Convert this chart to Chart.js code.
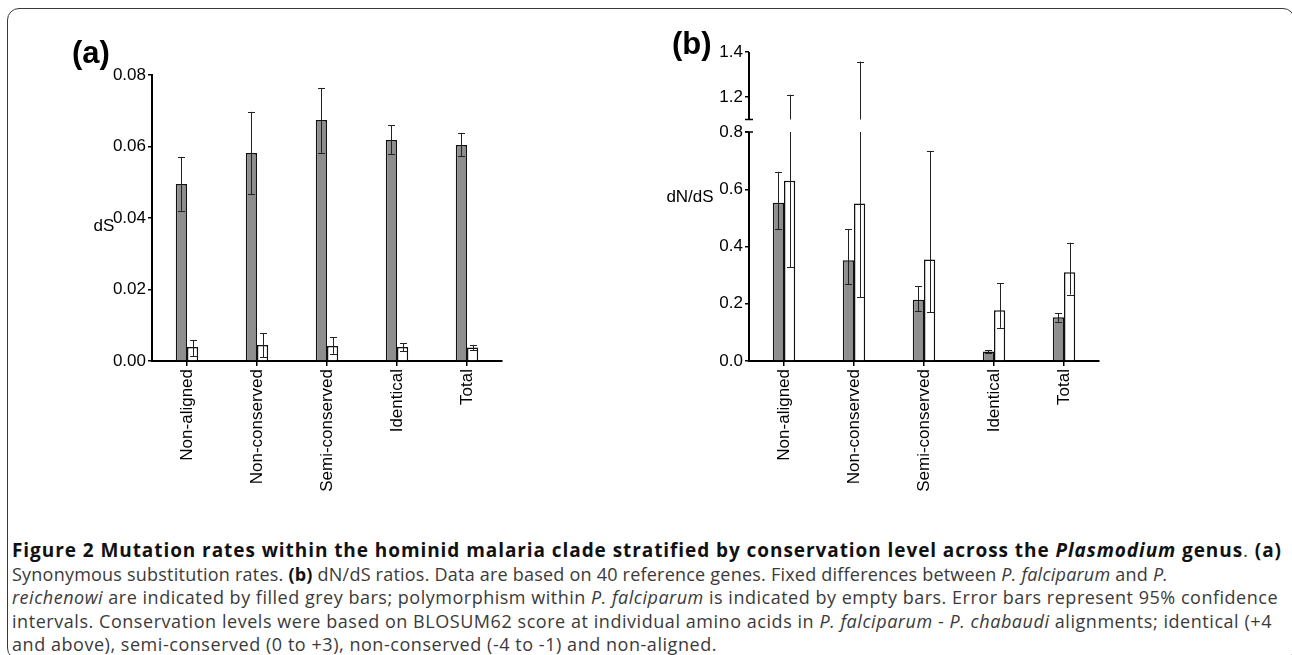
<!DOCTYPE html>
<html>
<head>
<meta charset="utf-8">
<script src="https://cdn.jsdelivr.net/npm/chart.js@4.4.1/dist/chart.umd.min.js"></script>
<style>
  html, body { margin: 0; padding: 0; background: #fff; }
  #page { position: relative; width: 1292px; height: 655px; overflow: hidden; font-family: "Liberation Sans", Arial, sans-serif; }
  #frame { position: absolute; left: 7px; top: 8px; width: 1288px; height: 652px; box-sizing: border-box; border: 1.5px solid #3a3a3a; border-radius: 12px; }
  #boxA { position: absolute; left: 0; top: 0; }
  #boxB { position: absolute; left: 640px; top: 0; }
  .tag { position: absolute; font: bold 31px "Liberation Sans", Arial, sans-serif; color: #000; line-height: 1; }
  #caption { position: absolute; left: 12px; top: 539px; font-family: "Open Sans", sans-serif; font-size: 18px; line-height: 23.5px; color: #3a3a3a; white-space: nowrap; }
  #caption b { color: #111; }
  #caption .head { font-size: 19px; }
</style>
</head>
<body>
<div id="page">
  <div id="frame"></div>
  <canvas id="boxA" width="640" height="520"></canvas>
  <canvas id="boxB" width="652" height="520"></canvas>
  <div class="tag" style="left:72px; top:37px;">(a)</div>
  <div class="tag" style="left:672px; top:28px;">(b)</div>
  <div id="caption">
    <span class="ln head" data-w="1270"><b>Figure 2 Mutation rates within the hominid malaria clade stratified by conservation level across the <i>Plasmodium</i> genus</b>. <b>(a)</b></span><br>
    <span class="ln" data-w="1156">Synonymous substitution rates. <b>(b)</b> dN/dS ratios. Data are based on 40 reference genes. Fixed differences between <i>P. falciparum</i> and <i>P.</i></span><br>
    <span class="ln" data-w="1266"><i>reichenowi</i> are indicated by filled grey bars; polymorphism within <i>P. falciparum</i> is indicated by empty bars. Error bars represent 95% confidence</span><br>
    <span class="ln" data-w="1260">intervals. Conservation levels were based on BLOSUM62 score at individual amino acids in <i>P. falciparum</i> - <i>P. chabaudi</i> alignments; identical (+4</span><br>
    <span class="ln" data-w="705">and above), semi-conserved (0 to +3), non-conserved (-4 to -1) and non-aligned.</span>
  </div>
</div>
<script>
var categories = ["Non-aligned", "Non-conserved", "Semi-conserved", "Identical", "Total"];

// (a) dS: fixed differences (grey) and polymorphism (white), with 95% CI
var dsFixed     = [0.0495, 0.0582, 0.0674, 0.0618, 0.0604];
var dsFixedLow  = [0.0420, 0.0467, 0.0582, 0.0579, 0.0573];
var dsFixedHigh = [0.0571, 0.0697, 0.0764, 0.0660, 0.0638];
var dsPoly      = [0.0039, 0.0045, 0.0042, 0.0039, 0.0038];
var dsPolyLow   = [0.0014, 0.0011, 0.0020, 0.0028, 0.0031];
var dsPolyHigh  = [0.0059, 0.0078, 0.0067, 0.0050, 0.0045];
var dsTicks     = [0, 0.02, 0.04, 0.06, 0.08];

// (b) dN/dS
var dndsFixed     = [0.553, 0.352, 0.214, 0.033, 0.153];
var dndsFixedLow  = [0.460, 0.268, 0.174, 0.029, 0.137];
var dndsFixedHigh = [0.661, 0.460, 0.262, 0.038, 0.167];
var dndsPoly      = [0.630, 0.550, 0.355, 0.177, 0.310];
var dndsPolyLow   = [0.327, 0.222, 0.170, 0.116, 0.232];
var dndsPolyHigh  = [1.210, 1.357, 0.734, 0.271, 0.413];
var dndsLowTicks  = [0, 0.2, 0.4, 0.6, 0.8];
var dndsHighTicks = [1.2, 1.4];
var dndsBreak     = [0.8, 1.1];   // axis is cut between these two values
var dndsTop       = 1.4;

var GREY = '#8e8e8e';
var FONT = '"Liberation Sans", Arial, sans-serif';

// stretch each caption line to its column width
document.querySelectorAll('#caption .ln').forEach(function(el) {
  var want = Number(el.getAttribute('data-w'));
  var have = el.getBoundingClientRect().width;
  var n = el.textContent.length;
  el.style.letterSpacing = ((want - have) / n).toFixed(3) + 'px';
});

// value range -> list of [yFrom, yTo] pixel pieces, split across the axis break
function pieces(chart, lo, hi) {
  var brk = chart.options.plugins.errorBars.cut;
  var y = chart.scales.y;
  if (!brk) return [[y.getPixelForValue(lo), y.getPixelForValue(hi)]];
  var y2 = chart.scales.y2;
  var out = [];
  out.push([y.getPixelForValue(lo), y.getPixelForValue(Math.min(hi, brk[0]))]);
  if (hi > brk[1]) out.push([y2.getPixelForValue(brk[1]), y2.getPixelForValue(hi)]);
  return out;
}
function yPix(chart, v) {
  var brk = chart.options.plugins.errorBars.cut;
  if (brk && v > brk[1]) return chart.scales.y2.getPixelForValue(v);
  return chart.scales.y.getPixelForValue(v);
}

var errorBars = {
  id: 'errorBars',
  afterDatasetsDraw: function(chart) {
    var ctx = chart.ctx;
    var cap = 3.5;
    ctx.save();
    ctx.strokeStyle = '#222';
    ctx.lineWidth = 1;
    chart.data.datasets.forEach(function(ds, di) {
      chart.getDatasetMeta(di).data.forEach(function(bar, i) {
        var x = Math.round(bar.x) + 0.5;
        var lo = ds.errLow[i], hi = ds.errHigh[i];
        ctx.beginPath();
        pieces(chart, lo, hi).forEach(function(p) {
          ctx.moveTo(x, p[0]);
          ctx.lineTo(x, p[1]);
        });
        [lo, hi].forEach(function(v) {
          var py = Math.round(yPix(chart, v)) + 0.5;
          ctx.moveTo(x - cap, py);
          ctx.lineTo(x + cap, py);
        });
        ctx.stroke();
      });
    });
    ctx.restore();
  }
};

// horizontal y-axis title and the broken axis line
var axisExtras = {
  id: 'axisExtras',
  afterDraw: function(chart) {
    var o = chart.options.plugins.axisExtras;
    var ctx = chart.ctx;
    var a = chart.chartArea;
    ctx.save();
    ctx.fillStyle = '#000';
    ctx.font = '17px ' + FONT;
    ctx.textAlign = 'center';
    ctx.textBaseline = 'middle';
    ctx.fillText(o.title, a.left + o.titleDx, a.top + o.titleAt * (a.bottom - a.top));
    if (o.cut) {
      var y = chart.scales.y, y2 = chart.scales.y2;
      var x = a.left;
      var yLowTop = y.getPixelForValue(o.cut[0]);
      var yHighBottom = y2.getPixelForValue(o.cut[1]);
      ctx.strokeStyle = '#000';
      ctx.lineWidth = 2;
      ctx.beginPath();
      ctx.moveTo(x, y.getPixelForValue(0) + 1);
      ctx.lineTo(x, yLowTop);
      ctx.moveTo(x, yHighBottom);
      ctx.lineTo(x, y2.getPixelForValue(o.top));
      ctx.stroke();
      ctx.lineWidth = 1.5;
      ctx.beginPath();
      ctx.moveTo(x - 4, yLowTop);
      ctx.lineTo(x + 4, yLowTop);
      ctx.moveTo(x - 4, yHighBottom);
      ctx.lineTo(x + 4, yHighBottom);
      ctx.stroke();
    }
    ctx.restore();
  }
};

function barSets(fixed, fLow, fHigh, poly, pLow, pHigh) {
  var common = { borderColor: '#111', borderWidth: 1.5, categoryPercentage: 0.32, barPercentage: 1.0 };
  return [
    Object.assign({ label: 'Fixed', data: fixed, backgroundColor: GREY, errLow: fLow, errHigh: fHigh }, common),
    Object.assign({ label: 'Polymorphism', data: poly, backgroundColor: '#fff', errLow: pLow, errHigh: pHigh }, common)
  ];
}

function xAxis() {
  return {
    type: 'category',
    grid: { display: true, drawOnChartArea: false, drawTicks: true, tickLength: 5, offset: false, color: '#000', lineWidth: 1.5 },
    border: { display: true, color: '#000', width: 2 },
    ticks: { color: '#000', font: { family: FONT, size: 17 }, minRotation: 90, maxRotation: 90, padding: 3, autoSkip: false },
    afterFit: function(s) { s.height = 159; }
  };
}

function yAxis(min, max, tickList, digits, extra) {
  return Object.assign({
    type: 'linear',
    min: min,
    max: max,
    grid: { display: true, drawOnChartArea: false, drawTicks: true, tickLength: 4, color: '#000', lineWidth: 1.5 },
    border: { display: true, color: '#000', width: 2 },
    ticks: {
      color: '#000', font: { family: FONT, size: 17 }, padding: 2,
      callback: function(v) { return Number(v).toFixed(digits); }
    },
    afterBuildTicks: function(s) { s.ticks = tickList.map(function(v) { return { value: v }; }); },
    afterFit: function(s) { s.width = s.chart.canvas.id === 'boxA' ? 152 : 109; }
  }, extra || {});
}

function baseOptions(pad) {
  return {
    responsive: false,
    animation: false,
    layout: { padding: pad },
    plugins: { legend: { display: false }, tooltip: { enabled: false } }
  };
}

// panel (a)
var optA = baseOptions({ top: 75, right: 138, bottom: 0, left: 0 });
optA.scales = { x: xAxis(), y: yAxis(0, 0.08, dsTicks, 2) };
optA.plugins.errorBars = { cut: null };
optA.plugins.axisExtras = { title: 'dS', titleDx: -48, titleAt: 0.53, cut: null };

new Chart(document.getElementById('boxA').getContext('2d'), {
  type: 'bar',
  data: { labels: categories, datasets: barSets(dsFixed, dsFixedLow, dsFixedHigh, dsPoly, dsPolyLow, dsPolyHigh) },
  options: optA,
  plugins: [errorBars, axisExtras]
});

// panel (b): two stacked y scales make the broken axis
var lowSpan = 229, gapSpan = 12.5;            // pixel heights of the lower part and the gap
var lowMax = dndsBreak[0] + gapSpan * dndsBreak[0] / lowSpan;
var highSpan = 309 - lowSpan - gapSpan;
var optB = baseOptions({ top: 52, right: 193, bottom: 0, left: 0 });
optB.scales = {
  x: xAxis(),
  y: yAxis(0, lowMax, dndsLowTicks, 1, { stack: 'dnds', stackWeight: lowSpan + gapSpan, border: { display: false } }),
  y2: yAxis(dndsBreak[1], dndsTop, dndsHighTicks, 1, { position: 'left', stack: 'dnds', stackWeight: highSpan, border: { display: false } })
};
optB.plugins.errorBars = { cut: dndsBreak };
optB.plugins.axisExtras = { title: 'dN/dS', titleDx: -59, titleAt: 0.47, cut: dndsBreak, top: dndsTop };

new Chart(document.getElementById('boxB').getContext('2d'), {
  type: 'bar',
  data: { labels: categories, datasets: barSets(dndsFixed, dndsFixedLow, dndsFixedHigh, dndsPoly, dndsPolyLow, dndsPolyHigh) },
  options: optB,
  plugins: [errorBars, axisExtras]
});
</script>
</body>
</html>
